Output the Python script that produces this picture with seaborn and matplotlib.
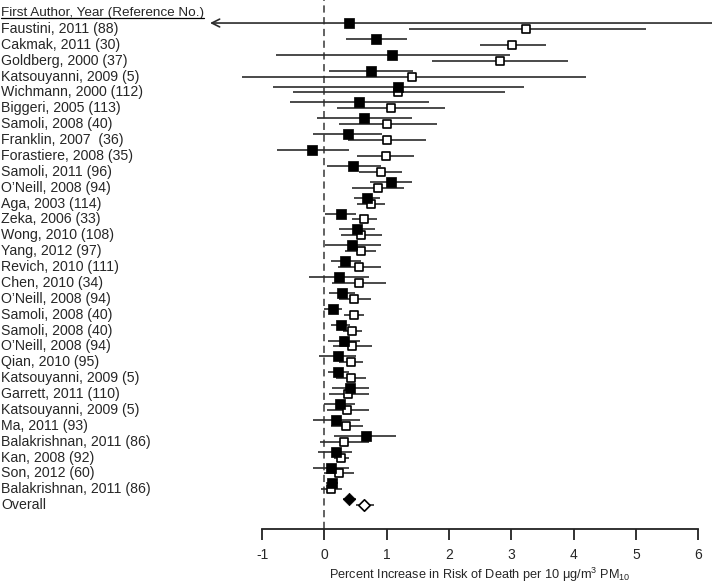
import matplotlib
matplotlib.use("Agg")
import matplotlib.pyplot as plt
from matplotlib.lines import Line2D
import seaborn as sns
import pandas as pd
import numpy as np

studies = ["Faustini, 2011 (88)", "Cakmak, 2011 (30)", "Goldberg, 2000 (37)",
           "Katsouyanni, 2009 (5)", "Wichmann, 2000 (112)", "Biggeri, 2005 (113)",
           "Samoli, 2008 (40)", "Franklin, 2007  (36)", "Forastiere, 2008 (35)",
           "Samoli, 2011 (96)", "O\u2019Neill, 2008 (94)", "Aga, 2003 (114)",
           "Zeka, 2006 (33)", "Wong, 2010 (108)", "Yang, 2012 (97)",
           "Revich, 2010 (111)", "Chen, 2010 (34)", "O\u2019Neill, 2008 (94)",
           "Samoli, 2008 (40)", "Samoli, 2008 (40)", "O\u2019Neill, 2008 (94)",
           "Qian, 2010 (95)", "Katsouyanni, 2009 (5)", "Garrett, 2011 (110)",
           "Katsouyanni, 2009 (5)", "Ma, 2011 (93)", "Balakrishnan, 2011 (86)",
           "Kan, 2008 (92)", "Son, 2012 (60)", "Balakrishnan, 2011 (86)", "Overall"]

# filled-square series (last entry = Overall)
filled_est = [0.39, 0.82, 1.09, 0.74, 1.18, 0.56, 0.63, 0.38, -0.20, 0.46, 1.06, 0.68,
              0.26, 0.52, 0.45, 0.33, 0.23, 0.28, 0.13, 0.26, 0.31, 0.22, 0.22, 0.41,
              0.25, 0.19, 0.66, 0.18, 0.10, 0.12, 0.40]
filled_lo = [-1.84, 0.34, -0.78, 0.07, -0.82, -0.56, -0.12, -0.18, -0.76, 0.04, 0.73, 0.48,
             0.01, 0.23, 0.01, 0.10, -0.25, 0.07, -0.01, 0.10, 0.05, -0.08, 0.05, 0.12,
             -0.01, -0.18, 0.16, -0.10, -0.18, 0.02, 0.29]
filled_hi = [6.30, 1.32, 2.98, 1.42, 3.21, 1.68, 1.40, 0.93, 0.39, 0.91, 1.40, 0.89,
             0.51, 0.81, 0.90, 0.58, 0.72, 0.49, 0.28, 0.41, 0.57, 0.51, 0.39, 0.71,
             0.49, 0.57, 1.15, 0.45, 0.39, 0.21, 0.51]

# open-square series
open_est = [3.23, 3.01, 2.81, 1.40, 1.18, 1.06, 1.00, 1.00, 0.98, 0.90, 0.86, 0.75,
            0.64, 0.58, 0.58, 0.56, 0.55, 0.48, 0.47, 0.45, 0.45, 0.43, 0.43, 0.37,
            0.36, 0.35, 0.32, 0.27, 0.24, 0.10, 0.64]
open_lo = [1.36, 2.49, 1.73, -1.32, -0.50, 0.20, 0.23, 0.38, 0.53, 0.55, 0.45, 0.53,
           0.45, 0.27, 0.33, 0.22, 0.12, 0.24, 0.31, 0.30, 0.14, 0.24, 0.18, 0.07,
           0.04, 0.11, -0.07, 0.15, -0.01, -0.05, 0.50]
open_hi = [5.16, 3.56, 3.91, 4.20, 2.89, 1.94, 1.80, 1.63, 1.43, 1.25, 1.28, 0.97,
           0.85, 0.92, 0.82, 0.90, 0.98, 0.75, 0.63, 0.60, 0.77, 0.62, 0.67, 0.71,
           0.71, 0.62, 0.71, 0.39, 0.48, 0.28, 0.79]

xticks = [-1, 0, 1, 2, 3, 4, 5, 6]
header = "First Author, Year (Reference No.)"
xlabel = ("Percent Increase in Risk of Death per 10 \u03bcg/m"
          r"$\mathregular{^{3}}$ PM$\mathregular{_{10}}$")

sns.set_style("white")
plt.rcParams["font.family"] = ["Liberation Sans", "DejaVu Sans"]
plt.rcParams["mathtext.fontset"] = "custom"
plt.rcParams["mathtext.rm"] = "Liberation Sans"

W, H = 712, 588
fig = plt.figure(figsize=(W / 100, H / 100), dpi=100)
ax = fig.add_axes([210 / W, 59 / H, 502 / W, 529 / H])

XMIN, XMAX = -1.837, 6.22
n = len(studies)
rows_open = np.arange(1, n + 1, dtype=float)
rows_fill = rows_open - 0.37

df_f = pd.DataFrame({"est": filled_est, "lo": filled_lo, "hi": filled_hi, "y": rows_fill,
                     "kind": ["study"] * (n - 1) + ["overall"]})
df_o = pd.DataFrame({"est": open_est, "lo": open_lo, "hi": open_hi, "y": rows_open,
                     "kind": ["study"] * (n - 1) + ["overall"]})

lc = "#2b2b2b"
ax.axvline(0, color="#555555", lw=1.3, ls=(0, (4, 2.5)), zorder=1)

# CI lines
for df in (df_o, df_f):
    for _, r in df.iterrows():
        lo, hi = r["lo"], r["hi"]
        if lo <= XMIN + 1e-6:
            ax.annotate("", xy=(XMIN, r["y"]), xytext=(min(hi, XMAX + 0.2), r["y"]),
                        arrowprops=dict(arrowstyle="->", color=lc, lw=1.2,
                                        mutation_scale=14, shrinkA=0, shrinkB=0),
                        annotation_clip=False, zorder=2)
        else:
            ax.plot([lo, hi], [r["y"], r["y"]], color=lc, lw=1.2, zorder=2,
                    solid_capstyle="butt", clip_on=True)

# markers
so = df_o[df_o.kind == "study"]
sf = df_f[df_f.kind == "study"]
sns.scatterplot(data=so, x="est", y="y", marker="s", s=34, facecolor="white",
                edgecolor="black", linewidth=1.2, ax=ax, zorder=3, legend=False)
sns.scatterplot(data=sf, x="est", y="y", marker="s", s=50, color="black",
                edgecolor="black", linewidth=0.5, ax=ax, zorder=4, legend=False)
oo = df_o[df_o.kind == "overall"]
of = df_f[df_f.kind == "overall"]
sns.scatterplot(data=oo, x="est", y="y", marker="D", s=34, facecolor="white",
                edgecolor="black", linewidth=1.2, ax=ax, zorder=3, legend=False)
sns.scatterplot(data=of, x="est", y="y", marker="D", s=40, color="black",
                edgecolor="black", linewidth=0.5, ax=ax, zorder=4, legend=False)

ax.set_xlim(XMIN, XMAX)
ax.set_ylim(32.5, -0.82)
ax.set_yticks([])
ax.set_ylabel("")
for s in ("top", "right", "left"):
    ax.spines[s].set_visible(False)
ax.spines["bottom"].set_bounds(-1, 6)
ax.spines["bottom"].set_linewidth(1.3)
ax.spines["bottom"].set_color("#222222")
ax.set_xticks(xticks)
ax.set_xticklabels([str(t) for t in xticks])
ax.tick_params(axis="x", direction="out", length=8, width=1.3, color="#222222",
               labelsize=10, pad=6, bottom=True)
ax.set_xlabel(xlabel, fontsize=9.2)
ax.xaxis.set_label_coords((2.5 - XMIN) / (XMAX - XMIN), -0.069)

# study labels
trans = ax.get_yaxis_transform()
xlab = (1 - 210) / 502
for i, name in enumerate(studies):
    ax.text(xlab, rows_open[i], name, transform=trans, ha="left", va="center",
            fontsize=10.2, clip_on=False)
htxt = ax.text(xlab, 0.0, header, transform=trans, ha="left", va="center",
               fontsize=9.7, clip_on=False)

fig.canvas.draw()
bb = htxt.get_window_extent()
yline = bb.y0 + 1
fig.add_artist(Line2D([bb.x0 / W, bb.x1 / W], [yline / H, yline / H],
                      transform=fig.transFigure, color="black", lw=0.9))

fig.savefig("out.png", dpi=100)
